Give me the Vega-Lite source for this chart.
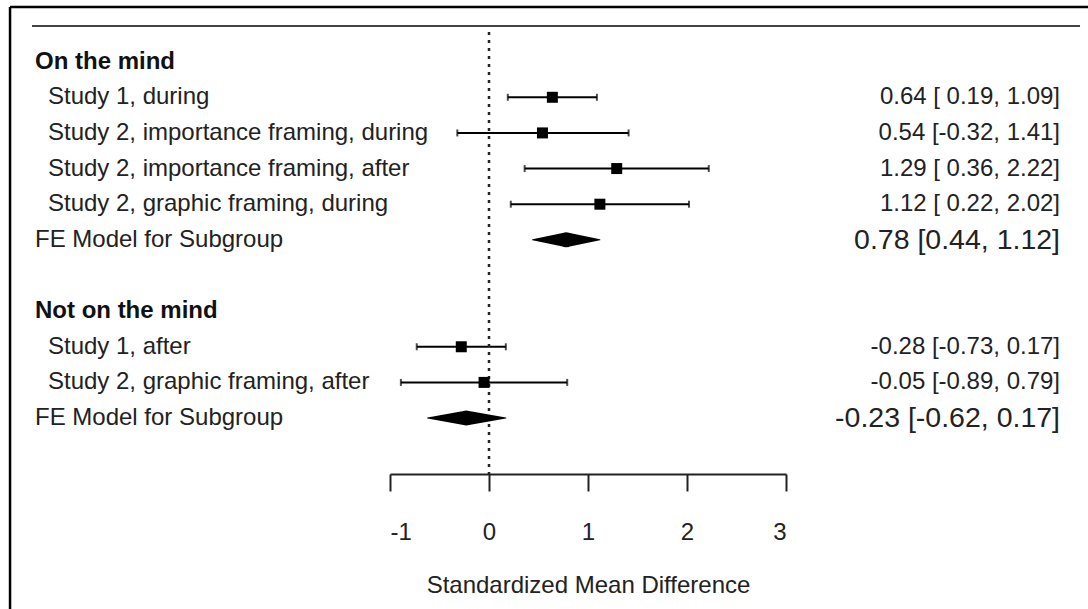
{
  "$schema": "https://vega.github.io/schema/vega-lite/v6.json",
  "width": 396,
  "height": 448,
  "autosize": {"type": "none"},
  "padding": {"left": 390, "top": 26, "right": 302, "bottom": 135},
  "background": "white",
  "config": {
    "view": {"stroke": null},
    "font": "Liberation Sans",
    "text": {"font": "Liberation Sans", "color": "#222"}
  },
  "datasets": {
    "rows": [
      {"row": 0, "label": "On the mind", "kind": "header"},
      {"row": 1, "label": "Study 1, during", "kind": "study", "est": 0.64, "lo": 0.19, "hi": 1.09, "ci": "0.64 [ 0.19, 1.09]"},
      {"row": 2, "label": "Study 2, importance framing, during", "kind": "study", "est": 0.54, "lo": -0.32, "hi": 1.41, "ci": "0.54 [-0.32, 1.41]"},
      {"row": 3, "label": "Study 2, importance framing, after", "kind": "study", "est": 1.29, "lo": 0.36, "hi": 2.22, "ci": "1.29 [ 0.36, 2.22]"},
      {"row": 4, "label": "Study 2, graphic framing, during", "kind": "study", "est": 1.12, "lo": 0.22, "hi": 2.02, "ci": "1.12 [ 0.22, 2.02]"},
      {"row": 5, "label": "FE Model for Subgroup", "kind": "fe", "est": 0.78, "lo": 0.44, "hi": 1.12, "ci": "0.78 [0.44, 1.12]"},
      {"row": 7, "label": "Not on the mind", "kind": "header"},
      {"row": 8, "label": "Study 1, after", "kind": "study", "est": -0.28, "lo": -0.73, "hi": 0.17, "ci": "-0.28 [-0.73, 0.17]"},
      {"row": 9, "label": "Study 2, graphic framing, after", "kind": "study", "est": -0.05, "lo": -0.89, "hi": 0.79, "ci": "-0.05 [-0.89, 0.79]"},
      {"row": 10, "label": "FE Model for Subgroup", "kind": "fe", "est": -0.23, "lo": -0.62, "hi": 0.17, "ci": "-0.23 [-0.62, 0.17]"}
    ],
    "one": [{"n": 1}]
  },
  "resolve": {"scale": {"x": "shared", "y": "shared"}},
  "layer": [
    {
      "data": {"name": "rows"},
      "transform": [{"filter": "datum.kind == 'study'"}],
      "mark": {"type": "rule", "color": "#000", "strokeWidth": 2},
      "encoding": {
        "x": {"field": "lo", "type": "quantitative", "scale": {"domain": [-1, 3], "nice": false, "zero": false}, "axis": {
          "values": [-1, 0, 1, 2, 3],
          "labelExpr": "'' + datum.value",
          "domainColor": "#222", "domainWidth": 2,
          "tickColor": "#222", "tickWidth": 2, "tickSize": 17,
          "labelFont": "Liberation Sans", "labelFontSize": 24, "labelColor": "#222", "labelPadding": 29,
          "grid": false,
          "title": "Standardized Mean Difference",
          "titleFont": "Liberation Sans", "titleFontSize": 24, "titleFontWeight": "normal", "titleColor": "#222",
          "titleY": 99, "titleBaseline": "top"
        }},
        "x2": {"field": "hi"},
        "y": {"field": "row", "type": "quantitative", "scale": {"domain": [-1, 11.57], "reverse": true, "zero": false, "nice": false}, "axis": null}
      }
    },
    {
      "data": {"name": "one"},
      "mark": {"type": "rule", "color": "#000", "strokeWidth": 2.5},
      "encoding": {
        "x": {"datum": -4.838, "type": "quantitative"},
        "y": {"datum": -1.533, "type": "quantitative"},
        "y2": {"datum": 15.36}
      }
    },
    {
      "data": {"name": "one"},
      "mark": {"type": "rule", "color": "#000", "strokeWidth": 2.5},
      "encoding": {
        "x": {"datum": -4.838, "type": "quantitative"},
        "x2": {"datum": 6.1},
        "y": {"datum": -1.533, "type": "quantitative"}
      }
    },
    {
      "data": {"name": "one"},
      "mark": {"type": "rule", "color": "#444", "strokeWidth": 2},
      "encoding": {
        "x": {"datum": -4.616, "type": "quantitative"},
        "x2": {"datum": 5.97},
        "y": {"datum": -1, "type": "quantitative"}
      }
    },
    {
      "data": {"name": "one"},
      "mark": {"type": "rule", "color": "#222", "strokeWidth": 2.5, "strokeDash": [3, 5]},
      "encoding": {
        "x": {"datum": 0, "type": "quantitative"},
        "y": {"datum": -0.832, "type": "quantitative"},
        "y2": {"datum": 11.57}
      }
    },
    {
      "data": {"name": "rows"},
      "transform": [{"filter": "datum.kind == 'study'"}],
      "mark": {"type": "tick", "orient": "vertical", "color": "#000", "size": 7, "thickness": 2},
      "encoding": {
        "x": {"field": "lo", "type": "quantitative"},
        "y": {"field": "row", "type": "quantitative"}
      }
    },
    {
      "data": {"name": "rows"},
      "transform": [{"filter": "datum.kind == 'study'"}],
      "mark": {"type": "tick", "orient": "vertical", "color": "#000", "size": 7, "thickness": 2},
      "encoding": {
        "x": {"field": "hi", "type": "quantitative"},
        "y": {"field": "row", "type": "quantitative"}
      }
    },
    {
      "data": {"name": "rows"},
      "transform": [{"filter": "datum.kind == 'study'"}],
      "mark": {"type": "point", "shape": "square", "filled": true, "color": "#000", "size": 121, "opacity": 1},
      "encoding": {
        "x": {"field": "est", "type": "quantitative"},
        "y": {"field": "row", "type": "quantitative"}
      }
    },
    {
      "data": {"name": "rows"},
      "transform": [
        {"filter": "datum.kind == 'fe'"},
        {"fold": ["lo", "est", "hi"], "as": ["k", "v"]}
      ],
      "mark": {"type": "trail", "color": "#000"},
      "encoding": {
        "x": {"field": "v", "type": "quantitative"},
        "y": {"field": "row", "type": "quantitative"},
        "size": {"field": "k", "type": "ordinal", "scale": {"type": "ordinal", "domain": ["lo", "est", "hi"], "range": [0, 15, 0]}, "legend": null},
        "detail": {"field": "row"}
      }
    },
    {
      "data": {"name": "rows"},
      "transform": [{"filter": "datum.kind == 'header'"}],
      "mark": {"type": "text", "align": "left", "baseline": "middle", "fontSize": 24, "fontWeight": "bold", "color": "#111"},
      "encoding": {
        "x": {"datum": -4.586, "type": "quantitative"},
        "y": {"field": "row", "type": "quantitative"},
        "text": {"field": "label"}
      }
    },
    {
      "data": {"name": "rows"},
      "transform": [{"filter": "datum.kind == 'fe'"}],
      "mark": {"type": "text", "align": "left", "baseline": "middle", "fontSize": 24},
      "encoding": {
        "x": {"datum": -4.586, "type": "quantitative"},
        "y": {"field": "row", "type": "quantitative"},
        "text": {"field": "label"}
      }
    },
    {
      "data": {"name": "rows"},
      "transform": [{"filter": "datum.kind == 'study'"}],
      "mark": {"type": "text", "align": "left", "baseline": "middle", "fontSize": 24},
      "encoding": {
        "x": {"datum": -4.455, "type": "quantitative"},
        "y": {"field": "row", "type": "quantitative"},
        "text": {"field": "label"}
      }
    },
    {
      "data": {"name": "rows"},
      "transform": [{"filter": "datum.kind == 'study'"}],
      "mark": {"type": "text", "align": "right", "baseline": "middle", "fontSize": 24},
      "encoding": {
        "x": {"datum": 5.768, "type": "quantitative"},
        "y": {"field": "row", "type": "quantitative"},
        "text": {"field": "ci"}
      }
    },
    {
      "data": {"name": "rows"},
      "transform": [{"filter": "datum.kind == 'fe'"}],
      "mark": {"type": "text", "align": "right", "baseline": "middle", "fontSize": 28.5},
      "encoding": {
        "x": {"datum": 5.768, "type": "quantitative"},
        "y": {"field": "row", "type": "quantitative"},
        "text": {"field": "ci"}
      }
    }
  ]
}
